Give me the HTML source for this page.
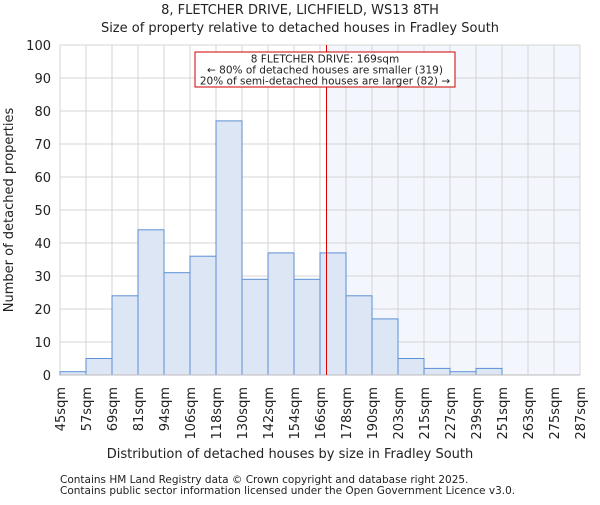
<!DOCTYPE html>
<html><head><meta charset="utf-8"><style>
body{margin:0;background:#fff;}
svg text{font-family:"DejaVu Sans","Liberation Sans",sans-serif;fill:#222;}
</style></head><body>
<svg id="chart" width="600" height="500">
<text x="300" y="14" text-anchor="middle" font-size="13">8, FLETCHER DRIVE, LICHFIELD, WS13 8TH</text>
<text x="300" y="32" text-anchor="middle" font-size="13">Size of property relative to detached houses in Fradley South</text>
<g id="plot"></g>
<text x="290" y="458" text-anchor="middle" font-size="13">Distribution of detached houses by size in Fradley South</text>
<text transform="translate(13,210) rotate(-90)" text-anchor="middle" font-size="13">Number of detached properties</text>
<text x="60" y="483" font-size="10.5" fill="#444">Contains HM Land Registry data © Crown copyright and database right 2025.</text>
<text x="60" y="494" font-size="10.5" fill="#444">Contains public sector information licensed under the Open Government Licence v3.0.</text>
</svg>
<script>
const binLabels=["45sqm","57sqm","69sqm","81sqm","94sqm","106sqm","118sqm","130sqm","142sqm","154sqm","166sqm","178sqm","190sqm","203sqm","215sqm","227sqm","239sqm","251sqm","263sqm","275sqm","287sqm"];
const counts=[1,5,24,44,31,36,77,29,37,29,37,24,17,5,2,1,2,0,0,0];
const yTicks=[0,10,20,30,40,50,60,70,80,90,100];
const markerValue=169;
const markerBinStart=166, markerBinEnd=178, markerBinIndex=10;
const NS="http://www.w3.org/2000/svg";
const L=60,R=580,T=45,B=375,yMax=100;
const bw=(R-L)/counts.length;
const xs=i=>L+i*bw;
const ys=v=>B-(v/yMax)*(B-T);
const g=document.getElementById('plot');
function mk(tag,a,p){const e=document.createElementNS(NS,tag);for(const k in a)e.setAttribute(k,a[k]);(p||g).appendChild(e);return e;}
const mx=xs(markerBinIndex+(markerValue-markerBinStart)/(markerBinEnd-markerBinStart));
const sh=mk('rect',{x:mx,y:T,width:R-mx,height:B-T,fill:'#f3f6fd'});


yTicks.forEach(v=>{
 const l=mk('line',{x1:L,x2:R,y1:ys(v),y2:ys(v),stroke:'#d4d4d4','stroke-width':1});
 
 
 const t=mk('text',{x:L-9,y:ys(v)+5,'text-anchor':'end','font-size':13});
 t.textContent=v;
 
 
});
binLabels.forEach((lb,i)=>{
 const l=mk('line',{x1:xs(i),x2:xs(i),y1:T,y2:B,stroke:'#d4d4d4','stroke-width':1});
 
 
 const t=mk('text',{transform:`translate(${xs(i)+5},${B+12}) rotate(-90)`,'text-anchor':'end','font-size':13});
 t.textContent=lb;
 
 
});
counts.forEach((v,i)=>{
 if(v<=0)return;
 const r=mk('rect',{x:xs(i),y:ys(v),width:bw,height:B-ys(v),fill:'#dce6f4',stroke:'#5b8fd6','stroke-width':1});
 
 
});
const ax=mk('line',{x1:L,x2:R,y1:B,y2:B,stroke:'#bbb','stroke-width':1});


const ml=mk('line',{x1:mx,x2:mx,y1:T,y2:B,stroke:'#d00','stroke-width':1});


const bx=mk('rect',{x:195,y:52,width:260,height:35,fill:'#fff',stroke:'#c00','stroke-width':1});


["8 FLETCHER DRIVE: 169sqm","← 80% of detached houses are smaller (319)","20% of semi-detached houses are larger (82) →"].forEach((s,i)=>{
 const t=mk('text',{x:325,y:62.5+i*11,'text-anchor':'middle','font-size':10.5});
 t.textContent=s;
 
 
});
</script>
</body></html>
